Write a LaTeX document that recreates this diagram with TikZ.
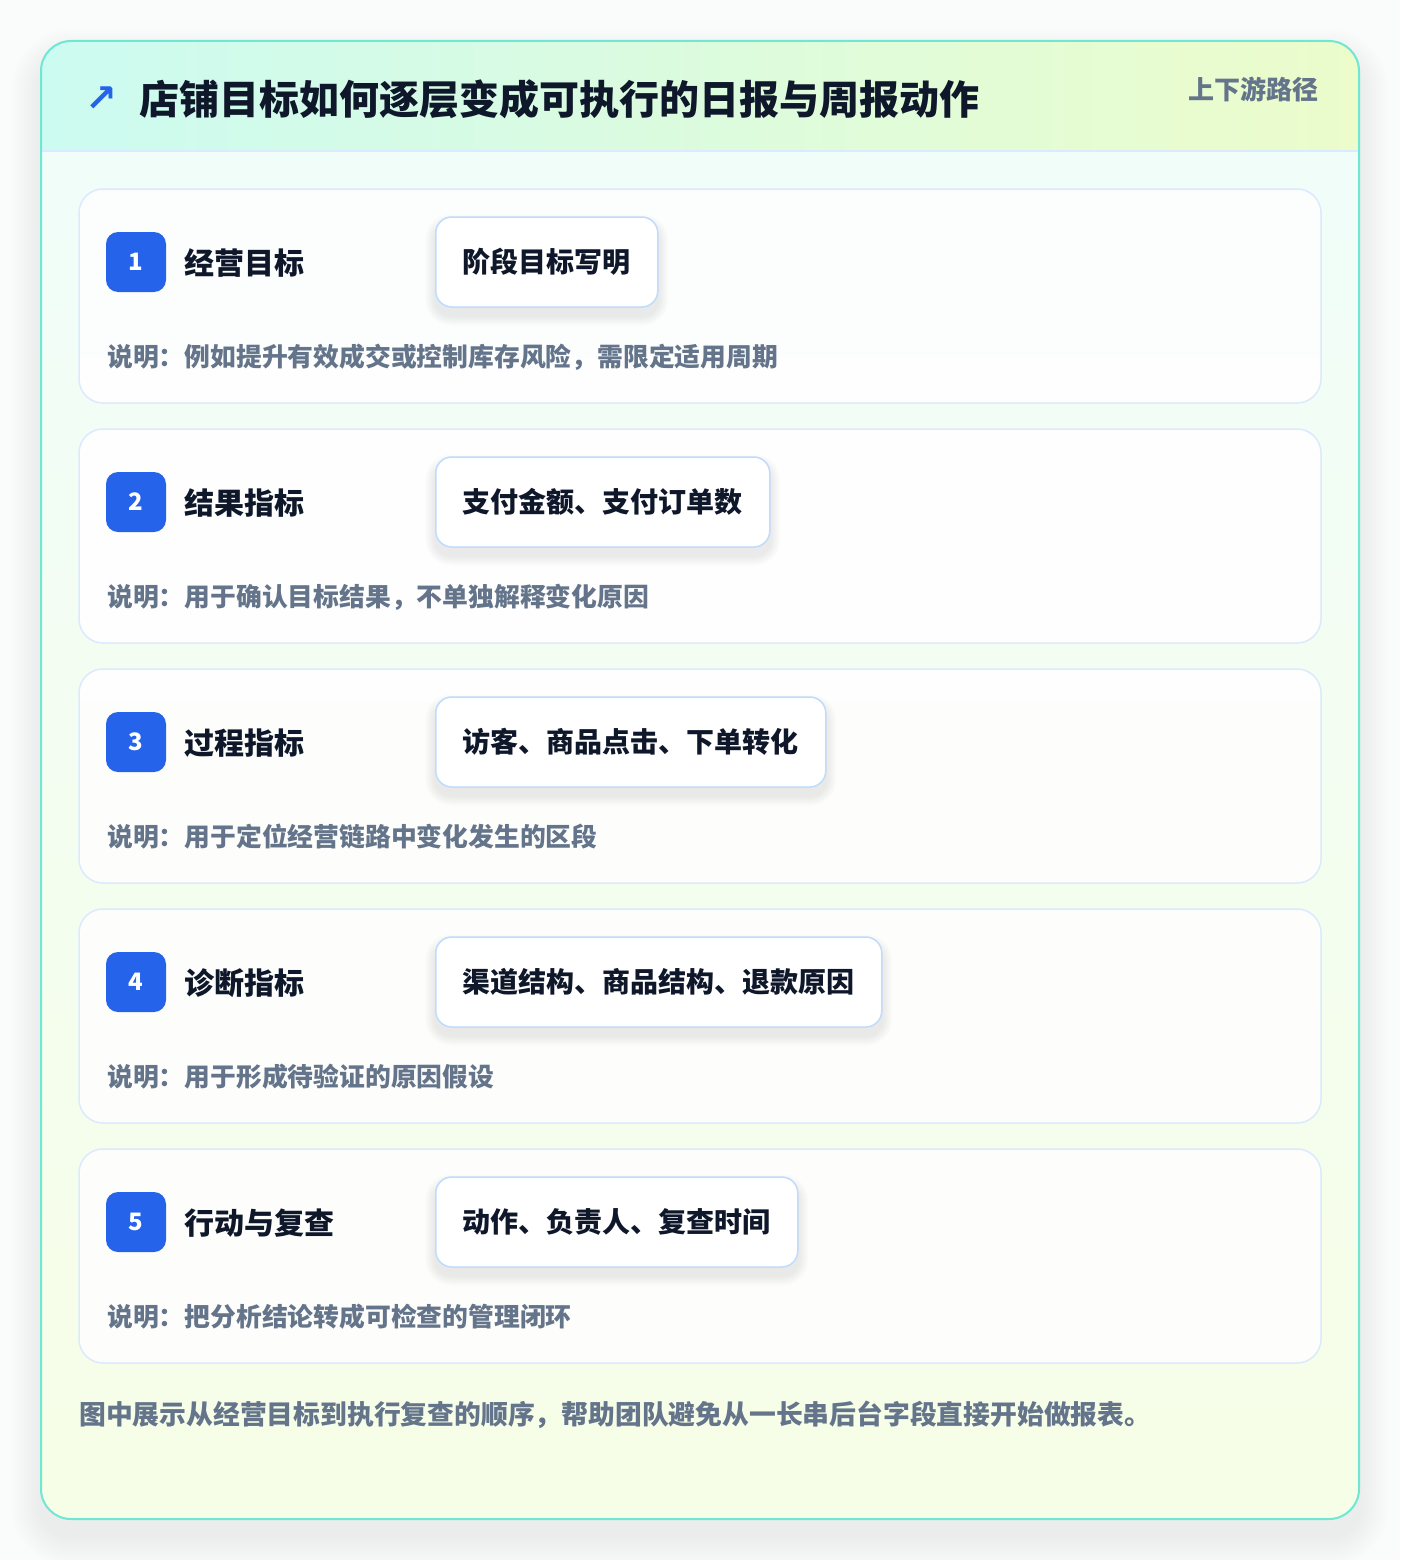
\documentclass[tikz,border=0pt]{standalone}
\usepackage{fontspec}
\setmainfont{Noto Sans CJK SC}
\newfontfamily\symfont{DejaVu Sans}
\definecolor{pagebg}{HTML}{FAFBFB}
\definecolor{tealA}{HTML}{CCFBF1}
\definecolor{limeA}{HTML}{ECFCCB}
\definecolor{tealB}{HTML}{F0FDFA}
\definecolor{limeB}{HTML}{F7FEE7}
\definecolor{rim}{HTML}{6EE7D3}
\definecolor{line}{HTML}{DBEAFE}
\definecolor{tagline}{HTML}{BFDBFE}
\definecolor{blue}{HTML}{2563EB}
\definecolor{ink}{HTML}{0F172A}
\definecolor{slate}{HTML}{64748B}
\pgfdeclarelayer{bg}
\pgfdeclarelayer{cardl}
\pgfdeclarelayer{shad}
\pgfsetlayers{bg,cardl,shad,main}
\tikzset{
  card/.style={draw=line, line width=1.5pt, fill=white, fill opacity=0.85, rounded corners=24pt},
  badge/.style={fill=blue, rounded corners=12pt, minimum width=60pt, minimum height=60pt, inner sep=0pt, text=white, font=\fontsize{24}{28}\selectfont\bfseries},
  lab/.style={anchor=west, inner sep=0pt, text=ink, font=\fontsize{30}{36}\selectfont\bfseries},
  tagbox/.style={anchor=west, draw=tagline, line width=1.5pt, fill=white, rounded corners=16pt, minimum height=90pt, inner xsep=27pt, text=ink, font=\fontsize{28}{34}\selectfont\bfseries},
  desc/.style={anchor=west, inner sep=0pt, text=slate, font=\fontsize{25.8}{31}\selectfont\bfseries},
  softshade/.style={fill=black, opacity=0.007},
}
\begin{document}
\begin{tikzpicture}[x=1pt,y=-1pt]
\useasboundingbox (0,0) rectangle (1400,1560);
\begin{pgfonlayer}{bg}
\fill[pagebg] (0,0) rectangle (1400,1560);
% outer shadow
\foreach \k in {2,4,...,30}{
  \fill[black, opacity=0.005, rounded corners=30+\k] (41-\k,41-\k+18) rectangle (1359+\k,1519+\k+18);
}
% outer card body
\shade[top color=tealB, bottom color=limeB, rounded corners=30pt] (41,41) rectangle (1359,1519);
\begin{scope}
  \clip[rounded corners=30pt] (41,41) rectangle (1359,1519);
  \shade[left color=tealA, right color=limeA] (41,41) rectangle (1359,151);
\end{scope}
\draw[line, line width=1.5pt] (42,151) -- (1358,151);
\draw[rim, line width=2pt, rounded corners=30pt] (41,41) rectangle (1359,1519);
\end{pgfonlayer}
% header
\node[text=blue, font=\symfont\fontsize{38}{42}\selectfont\bfseries, inner sep=0pt] (arrow) at (101,99) {↗};
\node[anchor=west, inner sep=0pt, text=ink, font=\fontsize{40}{48}\selectfont\bfseries] (title) at (139,99) {店铺目标如何逐层变成可执行的日报与周报动作};
\node[anchor=east, inner sep=0pt, text=slate, font=\fontsize{26}{31}\selectfont\bfseries] (route) at (1319,89) {上下游路径};
% rows
\foreach \i/\lab/\tag/\desc in {
  1/{经营目标}/{阶段目标写明}/{说明：例如提升有效成交或控制库存风险，需限定适用周期},
  2/{结果指标}/{支付金额、支付订单数}/{说明：用于确认目标结果，不单独解释变化原因},
  3/{过程指标}/{访客、商品点击、下单转化}/{说明：用于定位经营链路中变化发生的区段},
  4/{诊断指标}/{渠道结构、商品结构、退款原因}/{说明：用于形成待验证的原因假设},
  5/{行动与复查}/{动作、负责人、复查时间}/{说明：把分析结论转成可检查的管理闭环}}{
  \pgfmathsetmacro{\top}{189+240*(\i-1)}
  \begin{pgfonlayer}{cardl}
    \path[card] (79,\top) rectangle (1321,\top+214);
  \end{pgfonlayer}
  \coordinate (card\i) at (79,\top);
  \node[badge] (badge\i) at (136,\top+73) {\i};
  \node[lab] (label\i) at (184,\top+74) {\lab};
  \node[tagbox] (tag\i) at (435,\top+73) {\tag};
  \begin{pgfonlayer}{shad}
    \foreach \s in {1,2,...,10}{
      \fill[softshade, rounded corners=16+\s] ([shift={(-\s,8-\s)}]tag\i.north west) rectangle ([shift={(\s,8+\s)}]tag\i.south east);
    }
  \end{pgfonlayer}
  \node[desc] (desc\i) at (107,\top+168) {\desc};
}
% footer
\node[anchor=west, inner sep=0pt, text=slate, font=\fontsize{26.8}{32}\selectfont\bfseries] (footer) at (79,1415) {图中展示从经营目标到执行复查的顺序，帮助团队避免从一长串后台字段直接开始做报表。};
\end{tikzpicture}
\end{document}
